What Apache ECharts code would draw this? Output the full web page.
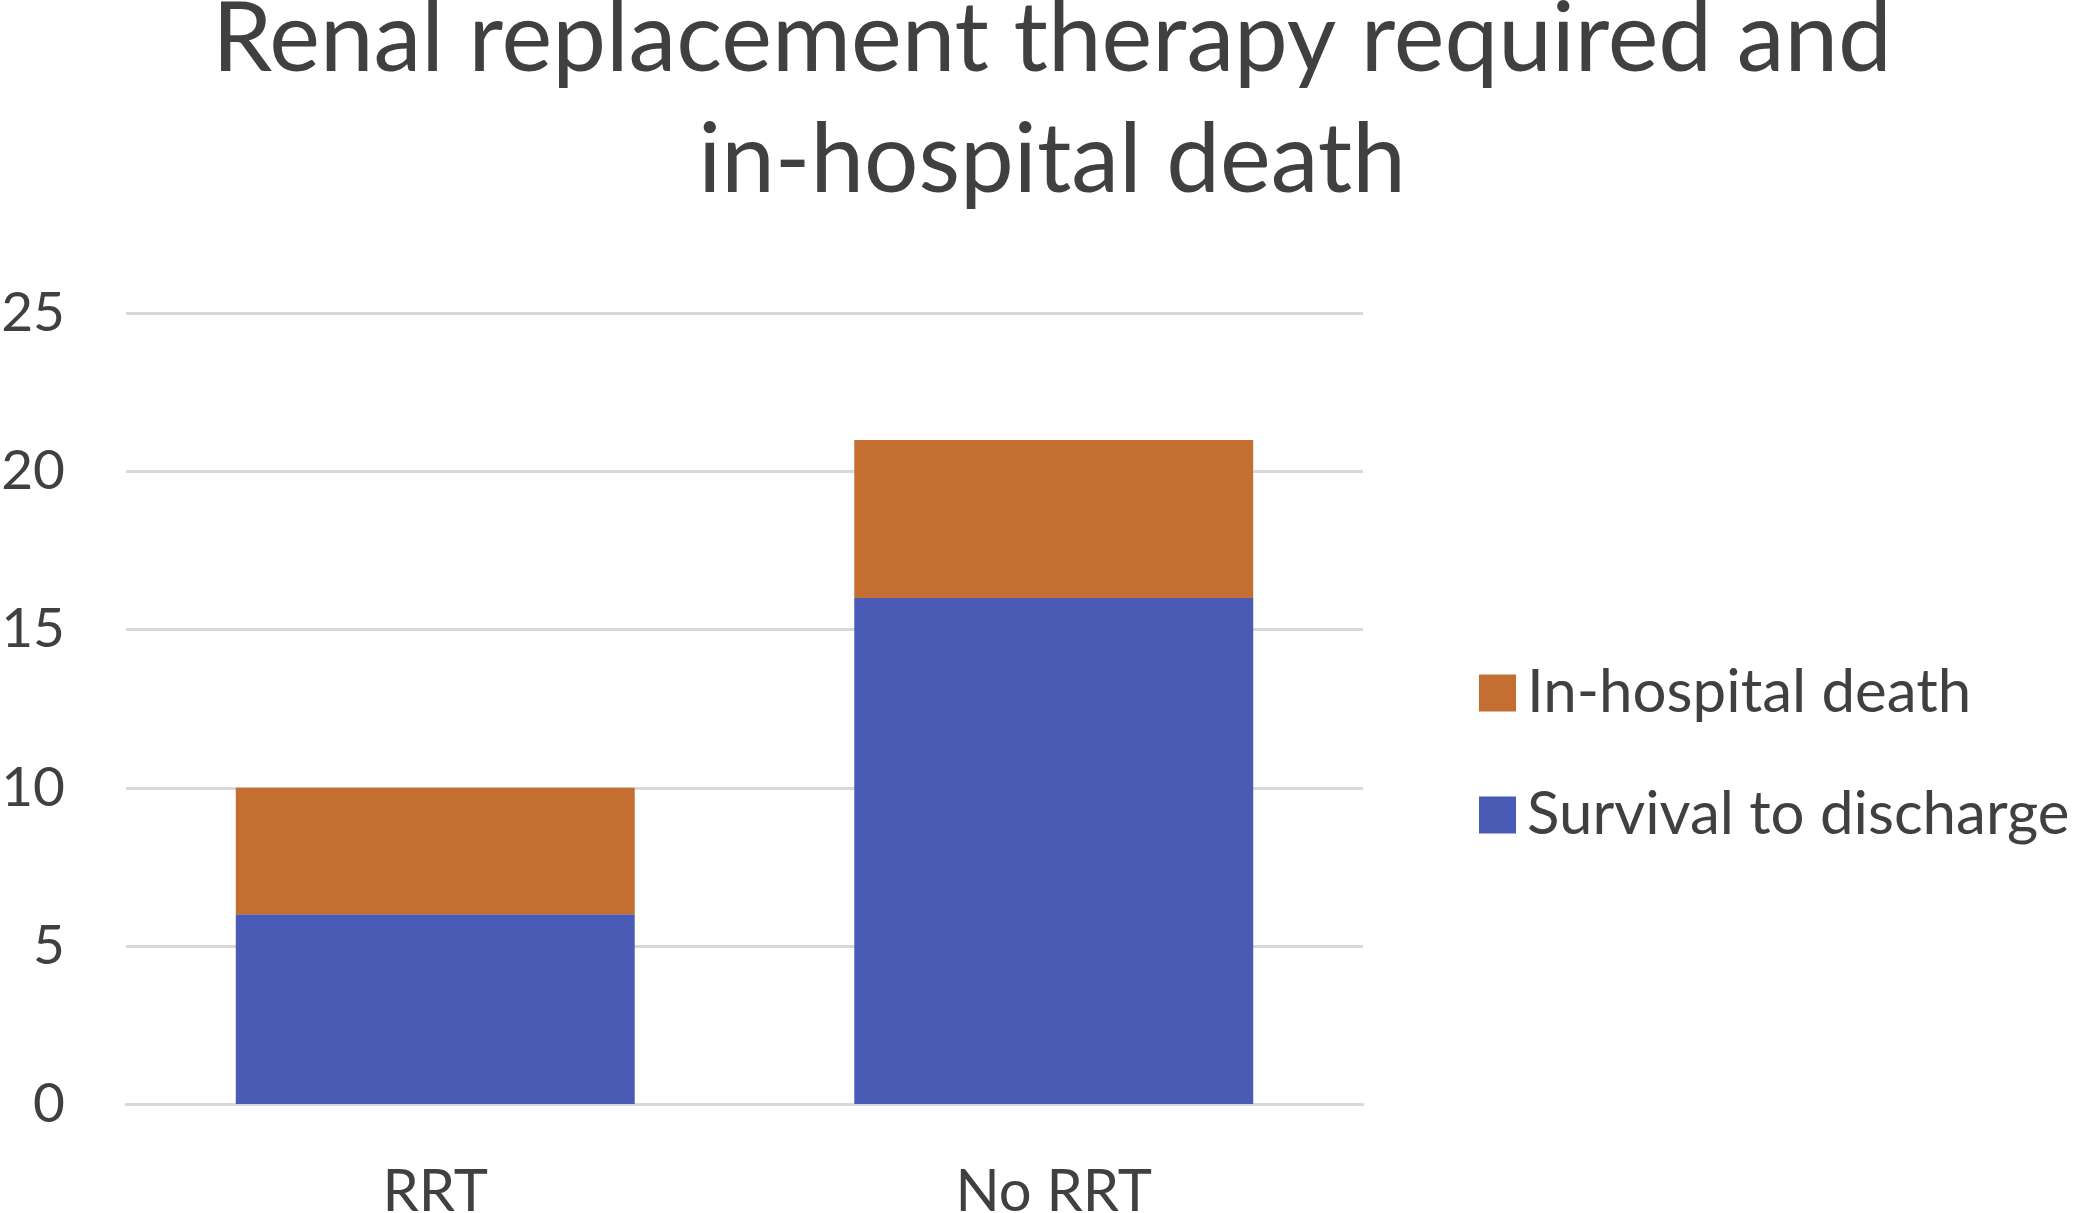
<!DOCTYPE html>
<html>
<head>
<meta charset="utf-8">
<script src="https://cdn.jsdelivr.net/npm/echarts@6/dist/echarts.min.js"></script>
<style>html,body{margin:0;padding:0;background:#fff}#c{width:2083px;height:1213px}</style>
</head>
<body>
<div id="c"></div>
<script>
const categories = ['RRT', 'No RRT'];
const survival = [6, 16];
const death = [4, 5];
const yTicks = [0, 5, 10, 15, 20, 25];
const titleText = 'Renal replacement therapy required and\nin-hospital death';

const FONT = 'Lato';
const chart = echarts.init(document.getElementById('c'));
chart.setOption({
  backgroundColor: '#fff',
  animation: false,
  title: {
    text: titleText,
    left: 1052, textAlign: 'center', top: -20, padding: 0,
    textStyle: { fontFamily: FONT, fontSize: 96, fontWeight: 'normal', color: '#404040', lineHeight: 121 }
  },
  legend: {
    orient: 'vertical', left: 1474, top: 658,
    itemWidth: 37, itemHeight: 37, itemGap: 62, icon: 'rect',
    data: ['In-hospital death', 'Survival to discharge'],
    textStyle: { fontFamily: FONT, fontSize: 60, color: '#404040', padding: [0, 0, 0, 6] }
  },
  grid: { left: 126, right: 2083 - 1363, top: 313.5, bottom: 1213 - 1104, outerBoundsMode: 'none', containLabel: false },
  xAxis: {
    type: 'category', data: categories,
    axisLine: { lineStyle: { color: '#D9D9D9', width: 3 } },
    axisTick: { show: false },
    axisLabel: { fontFamily: FONT, fontSize: 58, color: '#404040', margin: 59 }
  },
  yAxis: {
    type: 'value', min: yTicks[0], max: yTicks[yTicks.length - 1], interval: 5,
    axisLine: { show: false }, axisTick: { show: false },
    splitLine: { lineStyle: { color: '#D9D9D9', width: 3 } },
    axisLabel: { fontFamily: FONT, fontSize: 55, color: '#404040', margin: 61 }
  },
  series: [
    { name: 'Survival to discharge', type: 'bar', stack: 's', data: survival,
      barCategoryGap: '35.5%', itemStyle: { color: '#4A5BB5' } },
    { name: 'In-hospital death', type: 'bar', stack: 's', data: death,
      barCategoryGap: '35.5%', itemStyle: { color: '#C46E32' } }
  ]
});
</script>
</body>
</html>
